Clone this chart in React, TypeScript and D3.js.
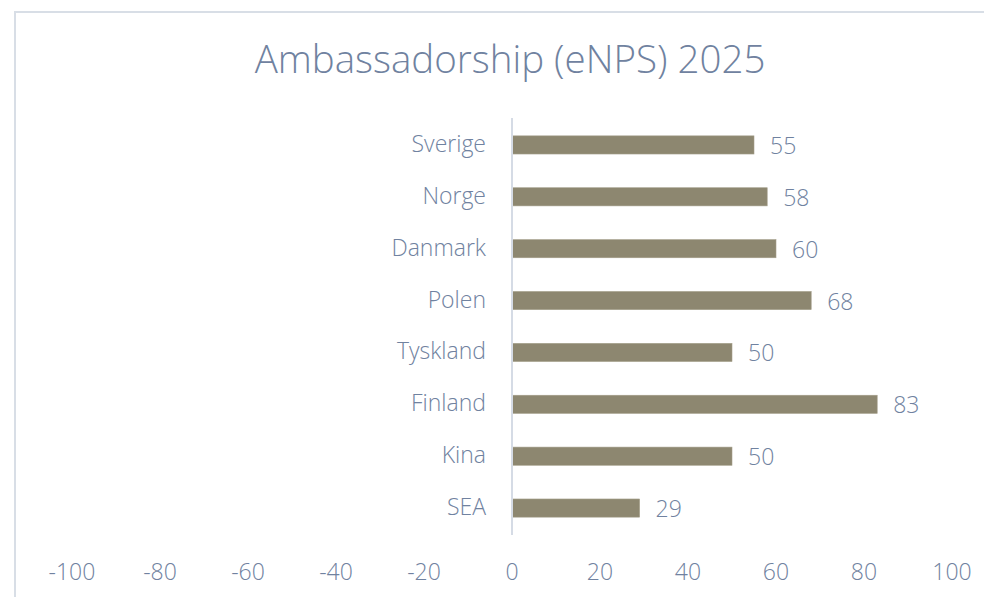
import React, { useEffect, useRef } from 'react';
import * as d3 from 'd3';

// Chart data
const COUNTRIES = ['Sverige', 'Norge', 'Danmark', 'Polen', 'Tyskland', 'Finland', 'Kina', 'SEA'];
const ENPS = [55, 58, 60, 68, 50, 83, 50, 29];
const X_TICKS = [-100, -80, -60, -40, -20, 0, 20, 40, 60, 80, 100];
const TITLE = 'Ambassadorship (eNPS) 2025';

const TEXT_COLOR = '#7082a0';
const BAR_COLOR = '#8d8770';

export default function App() {
  const ref = useRef<SVGSVGElement>(null);

  useEffect(() => {
    const svg = d3.select(ref.current);
    svg.selectAll('*').remove();

    const font = "'Open Sans', sans-serif";

    // frame
    svg.append('rect')
      .attr('x', 15)
      .attr('y', 12)
      .attr('width', 990)
      .attr('height', 600)
      .attr('fill', 'white')
      .attr('stroke', '#d8dee6')
      .attr('stroke-width', 2);

    svg.append('text')
      .attr('x', 510)
      .attr('y', 73)
      .attr('text-anchor', 'middle')
      .style('font-family', font)
      .style('font-weight', 300)
      .style('font-size', '38.5px')
      .attr('fill', TEXT_COLOR)
      .text(TITLE);

    const x = d3.scaleLinear().domain([-100, 100]).range([72, 952]);
    const y = d3.scaleBand().domain(COUNTRIES).range([119, 534])
      .paddingInner(0.65)
      .paddingOuter(0.325);

    // bars
    svg.selectAll('rect.bar')
      .data(COUNTRIES)
      .enter()
      .append('rect')
      .attr('class', 'bar')
      .attr('x', x(0))
      .attr('y', d => y(d)!)
      .attr('width', (d, i) => x(ENPS[i]) - x(0))
      .attr('height', y.bandwidth())
      .attr('fill', BAR_COLOR)
      .attr('stroke', '#a39e89')
      .attr('stroke-width', 0.6);

    // value labels
    svg.selectAll('text.val')
      .data(COUNTRIES)
      .enter()
      .append('text')
      .attr('class', 'val')
      .attr('x', (d, i) => x(ENPS[i]) + 16)
      .attr('y', d => y(d)! + y.bandwidth() / 2 + 9)
      .style('font-family', font)
      .style('font-weight', 300)
      .style('font-size', '23px')
      .attr('fill', TEXT_COLOR)
      .text((d, i) => ENPS[i]);

    // category labels
    svg.selectAll('text.cat')
      .data(COUNTRIES)
      .enter()
      .append('text')
      .attr('class', 'cat')
      .attr('x', 486)
      .attr('y', d => y(d)! + y.bandwidth() / 2 + 7)
      .attr('text-anchor', 'end')
      .style('font-family', font)
      .style('font-weight', 300)
      .style('font-size', '23px')
      .attr('fill', TEXT_COLOR)
      .text(d => d);

    // vertical axis line
    svg.append('line')
      .attr('x1', x(0))
      .attr('x2', x(0))
      .attr('y1', 118)
      .attr('y2', 535)
      .attr('stroke', '#d5dbe5')
      .attr('stroke-width', 2);

    // x tick labels
    svg.selectAll('text.tick')
      .data(X_TICKS)
      .enter()
      .append('text')
      .attr('class', 'tick')
      .attr('x', d => x(d))
      .attr('y', 580)
      .attr('text-anchor', 'middle')
      .style('font-family', font)
      .style('font-weight', 300)
      .style('font-size', '23px')
      .attr('fill', TEXT_COLOR)
      .text(d => d);
  }, []);

  return (
    <svg ref={ref} width={984} height={597}
      style={{ position: 'absolute', left: 0, top: 0, background: 'white' }} />
  );
}
